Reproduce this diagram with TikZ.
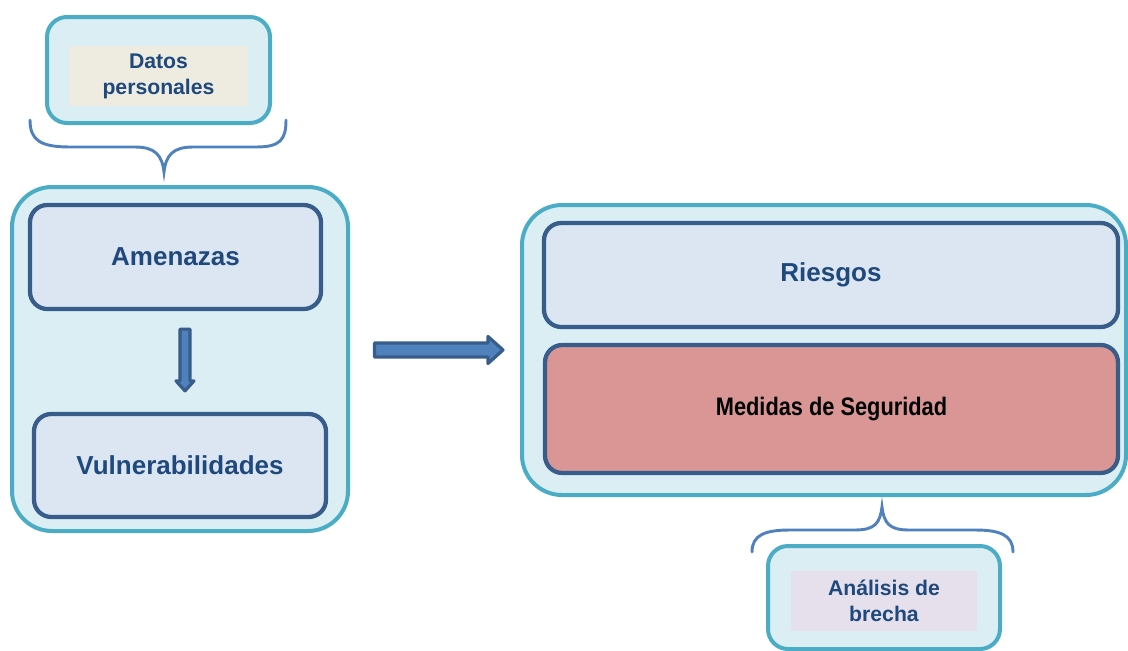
\documentclass[tikz,border=0pt]{standalone}
\usepackage{fontspec}
\setmainfont{Liberation Sans}
\usetikzlibrary{calc}
\definecolor{teal}{HTML}{4BACC6}
\definecolor{lightfill}{HTML}{DAEEF3}
\definecolor{innerfill}{HTML}{DCE6F2}
\definecolor{dkblue}{HTML}{385D8A}
\definecolor{txtblue}{HTML}{1F497D}
\definecolor{medfill}{HTML}{D99694}
\definecolor{beige}{HTML}{EEECE1}
\definecolor{lilac}{HTML}{E5E0EC}
\definecolor{arrowfill}{HTML}{4F81BD}
\definecolor{bracecol}{HTML}{4F81BD}
\begin{document}
\begin{tikzpicture}[x=0.75pt,y=-0.75pt,
  outerbox/.style={draw=teal,fill=lightfill,line width=3pt,rounded corners=30pt,inner sep=0pt},
  smallouter/.style={draw=teal,fill=lightfill,line width=3pt,rounded corners=15pt,inner sep=0pt},
  innerbox/.style={draw=dkblue,fill=innerfill,line width=3.2pt,rounded corners=13pt,inner sep=0pt,
     text=txtblue,font=\fontsize{19.5}{23}\selectfont\bfseries},
  labelbox/.style={inner sep=0pt,text=txtblue,align=center,font=\fontsize{15.9}{19.5}\selectfont\bfseries},
  fatarrow/.style={fill=arrowfill,draw=dkblue,line width=2.4pt,line join=round},
  bracestyle/.style={draw=bracecol,line width=2.2pt,line cap=round}]
\useasboundingbox (0,0) rectangle (1128,650);

% Datos personales
\node[smallouter,minimum width=167.25pt,minimum height=79.5pt] (datos) at (158.5,70) {};
\node[labelbox,fill=beige,minimum width=134.25pt,minimum height=45pt] (datosin) at (158.5,76) {Datos\\personales};

% Left group
\node[outerbox,minimum width=252pt,minimum height=258pt] (left) at (180,359) {};
\node[innerbox,minimum width=218.25pt,minimum height=78pt] (amen) at (175.5,257) {Amenazas};
\node[innerbox,minimum width=219pt,minimum height=77.25pt] (vuln) at (180,465.5) {Vulnerabilidades};

% Right group
\node[outerbox,minimum width=453pt,minimum height=217.5pt] (right) at (824,350) {};
\node[innerbox,minimum width=430.5pt,minimum height=78pt] (ries) at (831,275) {Riesgos};
\node[innerbox,fill=medfill,text=black,minimum width=429.75pt,minimum height=96pt,
  font=\fontsize{19}{22}\selectfont\bfseries] (med) at (831.5,409) {\scalebox{0.86}[1]{Medidas de Seguridad}};

% Analisis de brecha
\node[smallouter,minimum width=174pt,minimum height=77.25pt] (anal) at (884,597.5) {};
\node[labelbox,fill=lilac,minimum width=139.5pt,minimum height=45pt] (analin) at (884,601) {Análisis de\\brecha};

% Down arrow Amenazas -> Vulnerabilidades
\coordinate (dtop) at ($(amen.south)+(9.5,18)$);
\coordinate (dtip) at ($(vuln.north)+(5,-21)$);
\draw[fatarrow] ($(dtop)+(-5,0)$) -- ($(dtop)+(5,0)$) -- ($(dtip)+(5,-10)$) -- ($(dtip)+(9,-10)$)
  -- (dtip) -- ($(dtip)+(-9,-10)$) -- ($(dtip)+(-5,-10)$) -- cycle;

% Right arrow left group -> right group
\coordinate (rstart) at ($(right.west)+(-145.5,0)$);
\coordinate (rtip) at ($(right.west)+(-17,0)$);
\draw[fatarrow] ($(rstart)+(0,-7)$) -- ($(rtip)+(-15,-7)$) -- ($(rtip)+(-15,-13.5)$) -- (rtip)
  -- ($(rtip)+(-15,13.5)$) -- ($(rtip)+(-15,7)$) -- ($(rstart)+(0,7)$) -- cycle;

% Top brace
\draw[bracestyle] (30,120) .. controls (30,140) and (40,147) .. (70,147) -- (135,147)
  .. controls (155,147) and (162,155) .. (164,172)
  .. controls (166,155) and (173,147) .. (193,147) -- (256,147)
  .. controls (280,147) and (286,140) .. (286,120);

% Bottom brace
\draw[bracestyle] (752,552) .. controls (752,535) and (765,530) .. (790,530) -- (855,530)
  .. controls (875,530) and (880,523) .. (882,507)
  .. controls (884,523) and (889,530) .. (909,530) -- (975,530)
  .. controls (1000,530) and (1013,535) .. (1013,552);
\end{tikzpicture}
\end{document}
